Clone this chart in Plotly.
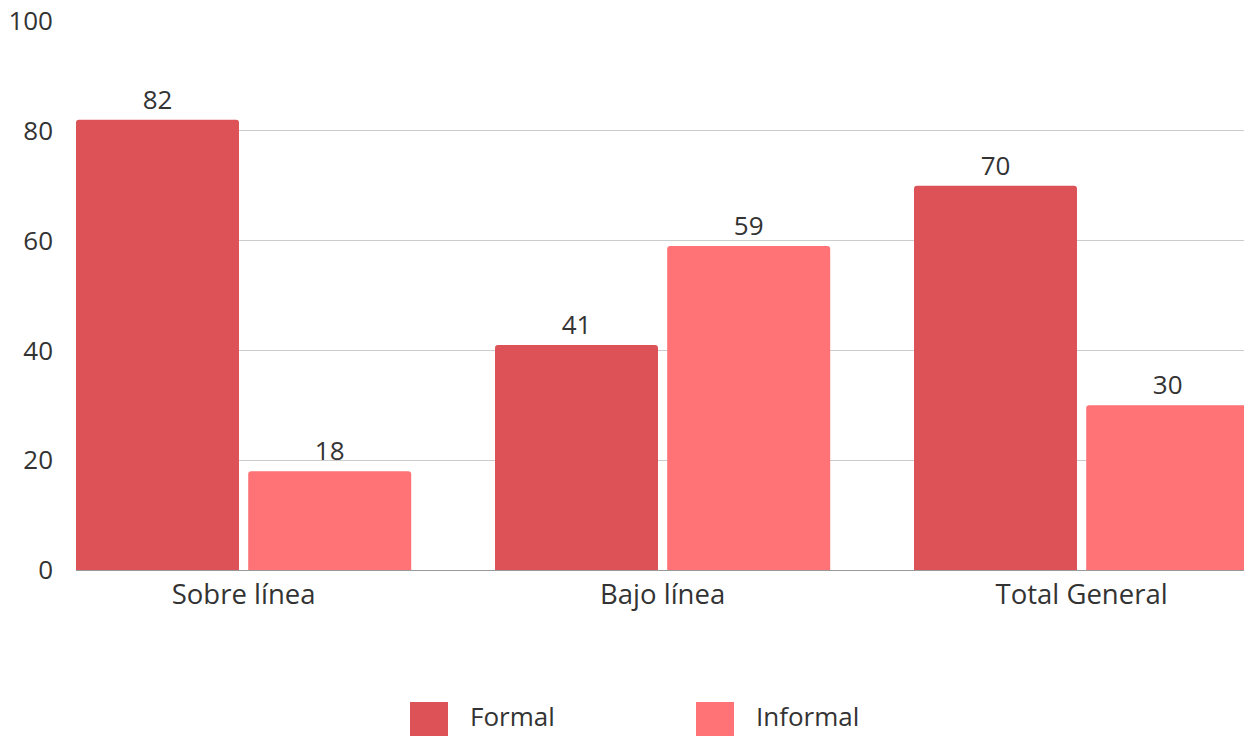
import plotly.graph_objects as go

# Data
categories = ["Sobre línea", "Bajo línea", "Total General"]
formal = [82, 41, 70]
informal = [18, 59, 30]
series_names = ["Formal", "Informal"]
y_ticks = [0, 20, 40, 60, 80, 100]

colors = ["#DD5257", "#FF7276"]
FONT = "Open Sans"
TXT = "#333333"

fig = go.Figure()

bar_w = 0.389
offsets = [-0.4, 0.4 - bar_w]
for name, vals, col, off in zip(series_names, [formal, informal], colors, offsets):
    fig.add_trace(go.Bar(
        x=categories, y=vals, name=name,
        marker=dict(color=col, line=dict(width=0)),
        width=bar_w, offset=off,
        text=vals, texttemplate="%{y}", textposition="outside",
        textfont=dict(family=FONT, size=26, color=TXT),
        cliponaxis=False, showlegend=False,
    ))

fig.update_layout(
    width=1244, height=736,
    margin=dict(l=76, r=0, t=21, b=166),
    paper_bgcolor="white", plot_bgcolor="white",
    barcornerradius=3,
    font=dict(family=FONT, size=26, color=TXT),
    xaxis=dict(
        range=[-0.4, 2.3876], showgrid=False, showline=False, zeroline=False,
        tickfont=dict(family=FONT, size=27.5, color=TXT),
        ticks="", ticklabelstandoff=5,
    ),
    yaxis=dict(
        range=[0, 100], tickvals=y_ticks, ticktext=[str(v) for v in y_ticks],
        showgrid=True, gridcolor="#cccccc", gridwidth=1,
        zeroline=True, zerolinecolor="#999999", zerolinewidth=1,
        showline=False, ticks="",
        tickfont=dict(family=FONT, size=26, color=TXT),
        ticklabelstandoff=22,
    ),
)

# Legend drawn as swatches + labels below the plot
plot_w = 1244 - 76
plot_h = 736 - 21 - 166
def px_x(p):
    return (p - 76) / plot_w
def px_y(p):
    return (570 - p) / plot_h

legend_items = [(410, 469, series_names[0], colors[0]),
                (696, 755, series_names[1], colors[1])]
for sx, tx, label, col in legend_items:
    fig.add_shape(type="rect", xref="paper", yref="paper",
                  x0=px_x(sx), x1=px_x(sx + 38), y0=px_y(702), y1=px_y(740),
                  fillcolor=col, line=dict(width=0))
    fig.add_annotation(xref="paper", yref="paper", x=px_x(tx), y=px_y(716),
                       text=label, showarrow=False, xanchor="left", yanchor="middle",
                       borderpad=0,
                       font=dict(family=FONT, size=26, color=TXT))

fig.write_html("out.html")
